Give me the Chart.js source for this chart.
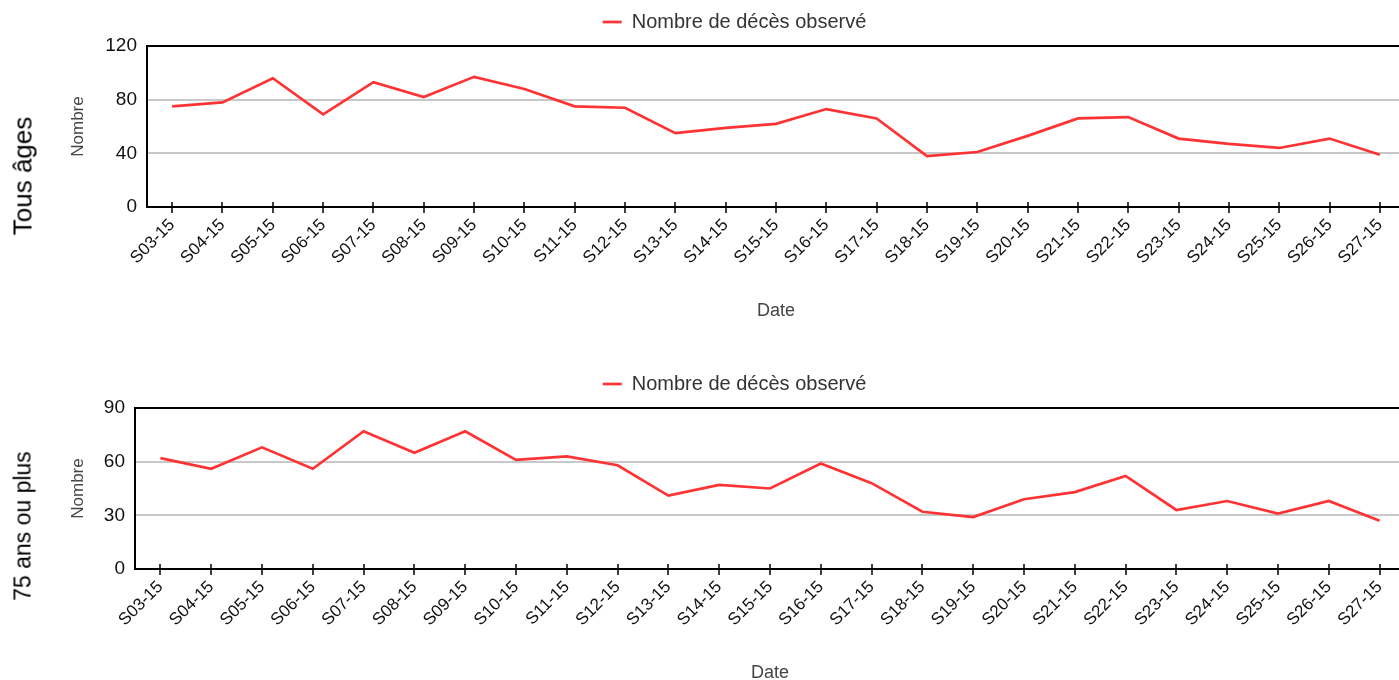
<!DOCTYPE html>
<html>
<head>
<meta charset="utf-8">
<script src="https://cdn.jsdelivr.net/npm/chart.js@4.4.1/dist/chart.umd.min.js"></script>
<style>
  html, body { margin: 0; padding: 0; background: #fff; overflow: hidden; width: 1399px; height: 680px; }
  .panel { position: absolute; left: 0; width: 1410px; height: 362px; }
  .panel canvas { position: absolute; left: 0; top: 0; }
  .side { position: absolute; left: 23px; font-family: 'Liberation Sans', Arial, sans-serif; color: #000;
          white-space: nowrap; transform: translate(-50%, -50%) rotate(-90deg); }
</style>
</head>
<body>
<div class="panel" style="top:0">
  <canvas id="c1" width="1410" height="362"></canvas>
  <div class="side" style="top:176px; font-size:26px">Tous âges</div>
</div>
<div class="panel" style="top:362px">
  <canvas id="c2" width="1410" height="362"></canvas>
  <div class="side" style="top:164px; font-size:23px">75 ans ou plus</div>
</div>
<script>
// semaines 2015
const weeks = ['S03-15', 'S04-15', 'S05-15', 'S06-15', 'S07-15', 'S08-15', 'S09-15', 'S10-15', 'S11-15',
  'S12-15', 'S13-15', 'S14-15', 'S15-15', 'S16-15', 'S17-15', 'S18-15', 'S19-15', 'S20-15', 'S21-15',
  'S22-15', 'S23-15', 'S24-15', 'S25-15', 'S26-15', 'S27-15'];
const allAges = [75, 78, 96, 69, 93, 82, 97, 88, 75, 74, 55, 59, 62, 73, 66, 38, 41, 53, 66, 67, 51, 47, 44, 51, 39];
const over75 = [62, 56, 68, 56, 77, 65, 77, 61, 63, 58, 41, 47, 45, 59, 48, 32, 29, 39, 43, 52, 33, 38, 31, 38, 27];
const yTicks1 = [0, 40, 80, 120];
const yTicks2 = [0, 30, 60, 90];
const seriesLabel = 'Nombre de décès observé';

const FONT = "'Liberation Sans', Arial, sans-serif";
const RED = '#ff3333';

// petits traits verticaux qui traversent l'axe des x
const crossTicks = {
  id: 'crossTicks',
  afterDraw(chart) {
    const xs = chart.scales.x, yb = chart.chartArea.bottom, ctx = chart.ctx;
    ctx.save();
    ctx.strokeStyle = '#000';
    ctx.lineWidth = 1.5;
    xs.ticks.forEach((t, i) => {
      const px = Math.round(xs.getPixelForTick(i));
      ctx.beginPath();
      ctx.moveTo(px, yb - 5);
      ctx.lineTo(px, yb + 6);
      ctx.stroke();
    });
    ctx.restore();
  }
};

function makeChart(id, values, yTicks, yWidth) {
  const yMax = yTicks[yTicks.length - 1];
  return new Chart(document.getElementById(id), {
    type: 'line',
    data: {
      labels: weeks,
      datasets: [{
        label: seriesLabel,
        data: values,
        borderColor: RED,
        backgroundColor: RED,
        borderWidth: 2.7,
        pointRadius: 0,
        tension: 0,
        fill: false
      }]
    },
    plugins: [crossTicks],
    options: {
      responsive: false,
      animation: false,
      layout: { padding: { left: 64, right: 5, top: 2, bottom: 36 } },
      plugins: {
        tooltip: { enabled: false },
        legend: {
          labels: {
            usePointStyle: true,
            pointStyle: 'line',
            pointStyleWidth: 19,
            padding: 10,
            color: '#333',
            font: { size: 20, family: FONT }
          }
        }
      },
      scales: {
        x: {
          offset: true,
          grid: { display: false, drawTicks: false },
          border: { color: '#000', width: 2 },
          ticks: { minRotation: 45, maxRotation: 45, padding: 8, color: '#111', font: { size: 17, family: FONT } },
          title: { display: true, text: 'Date', color: '#444', font: { size: 18, family: FONT } },
          afterFit: s => { s.height = 119; }
        },
        xTop: {
          type: 'category',
          position: 'top',
          labels: weeks,
          grid: { display: false, drawTicks: false },
          ticks: { display: false },
          border: { color: '#000', width: 2 },
          afterFit: s => { s.height = 4; }
        },
        y: {
          min: 0,
          max: yMax,
          afterBuildTicks: s => { s.ticks = yTicks.map(v => ({ value: v })); },
          grid: {
            drawTicks: false,
            lineWidth: 2,
            color: c => (c.tick && (c.tick.value === 0 || c.tick.value === yMax)) ? 'rgba(0,0,0,0)' : '#c8c8c8'
          },
          border: { color: '#000', width: 2 },
          ticks: { padding: 10, color: '#111', font: { size: 19, family: FONT } },
          title: { display: true, text: 'Nombre', color: '#444', font: { size: 17, family: FONT } },
          afterFit: s => { s.width = yWidth; }
        }
      }
    }
  });
}

makeChart('c1', allAges, yTicks1, 83);
makeChart('c2', over75, yTicks2, 71);
</script>
</body>
</html>
